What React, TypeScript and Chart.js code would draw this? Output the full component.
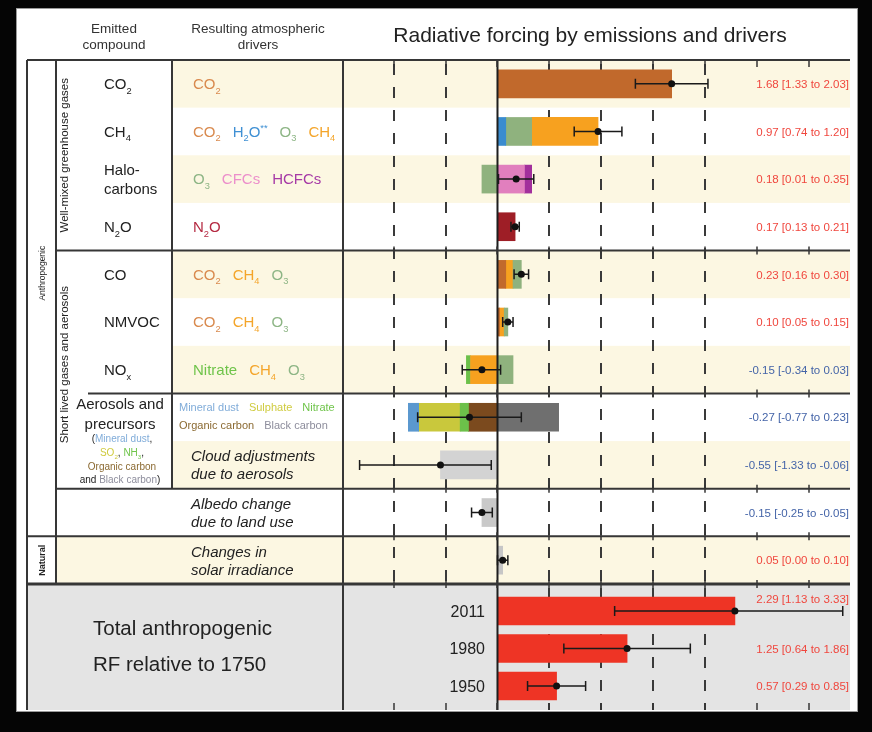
import React, { useEffect, useRef } from 'react';
import { Chart, registerables } from 'chart.js';

Chart.register(...registerables);

const FONT = '"Liberation Sans", Arial, Helvetica, sans-serif';
const W = 872;
const H = 732;

// ---------------- data ----------------
const rowNames = [
  'CO2', 'CH4', 'Halocarbons', 'N2O', 'CO', 'NMVOC', 'NOx',
  'Aerosols and precursors', 'Cloud adjustments due to aerosols',
  'Albedo change due to land use', 'Changes in solar irradiance',
];

// contribution of each atmospheric driver, per emitted compound (W m-2)
const co2Values = [1.68, null, null, null, 0.08, 0.02, null, null, null, null, null];
const h2oValues = [null, 0.08, null, null, null, null, null, null, null, null, null];
const o3Values = [null, 0.25, -0.15, null, 0.08, 0.035, 0.15, null, null, null, null];
const ch4Values = [null, 0.64, null, null, 0.07, 0.045, -0.26, null, null, null, null];
const cfcValues = [null, null, 0.26, null, null, null, null, null, null, null, null];
const hcfcValues = [null, null, 0.07, null, null, null, null, null, null, null, null];
const n2oValues = [null, null, null, 0.17, null, null, null, null, null, null, null];
const nitrateValues = [null, null, null, null, null, null, -0.04, -0.08, null, null, null];
const dustValues = [null, null, null, null, null, null, null, -0.10, null, null, null];
const sulphateValues = [null, null, null, null, null, null, null, -0.40, null, null, null];
const organicCarbonValues = [null, null, null, null, null, null, null, -0.28, null, null, null];
const blackCarbonValues = [null, null, null, null, null, null, null, 0.59, null, null, null];
const cloudValues = [null, null, null, null, null, null, null, null, -0.55, null, null];
const albedoValues = [null, null, null, null, null, null, null, null, null, -0.15, null];
const solarValues = [null, null, null, null, null, null, null, null, null, null, 0.05];

// drivers listed for each row (left-to-right order of the bar segments)
const rowDrivers = [
  ['CO2'], ['CO2', 'H2O', 'O3', 'CH4'], ['O3', 'CFCs', 'HCFCs'], ['N2O'],
  ['CO2', 'CH4', 'O3'], ['CO2', 'CH4', 'O3'], ['Nitrate', 'CH4', 'O3'],
  ['Dust', 'Sulphate', 'Nitrate', 'OC', 'BC'], ['Cloud'], ['Albedo'], ['Solar'],
];

const bestEstimates = [1.68, 0.97, 0.18, 0.17, 0.23, 0.10, -0.15, -0.27, -0.55, -0.15, 0.05];
const lowEstimates = [1.33, 0.74, 0.01, 0.13, 0.16, 0.05, -0.34, -0.77, -1.33, -0.25, 0.00];
const highEstimates = [2.03, 1.20, 0.35, 0.21, 0.30, 0.15, 0.03, 0.23, -0.06, -0.05, 0.10];

const totalYears = ['2011', '1980', '1950'];
const totalBest = [2.29, 1.25, 0.57];
const totalLow = [1.13, 0.64, 0.29];
const totalHigh = [3.33, 1.86, 0.85];

const xTickValues = [-1, -0.5, 0, 0.5, 1, 1.5, 2, 2.5, 3];
const dashedValues = [-1, -0.5, 0.5, 1, 1.5, 2];

// ---------------- styles ----------------
const DARK = '#222222';
const LINE = '#363636';
const CREAM = '#fcf7e2';
const GREY_BG = '#e4e4e4';
const POS_TXT = '#f0473e';
const NEG_TXT = '#4464a8';

type Driver = { label: string; values: (number | null)[]; bar: string; text: string };
const DRIVERS: Record<string, Driver> = {
  CO2: { label: 'CO_2', values: co2Values, bar: '#c1692c', text: '#d98a4e' },
  H2O: { label: 'H_2O^**', values: h2oValues, bar: '#3a8ccf', text: '#3f90d4' },
  O3: { label: 'O_3', values: o3Values, bar: '#8fb27e', text: '#8db585' },
  CH4: { label: 'CH_4', values: ch4Values, bar: '#f7a11f', text: '#f4a52a' },
  CFCs: { label: 'CFCs', values: cfcValues, bar: '#e17fbe', text: '#ec8fcb' },
  HCFCs: { label: 'HCFCs', values: hcfcValues, bar: '#a2309c', text: '#a63aa6' },
  N2O: { label: 'N_2O', values: n2oValues, bar: '#9e1e26', text: '#b52a42' },
  Nitrate: { label: 'Nitrate', values: nitrateValues, bar: '#6cc04a', text: '#6fc44a' },
  Dust: { label: 'Mineral dust', values: dustValues, bar: '#5b98cf', text: '#80acd9' },
  Sulphate: { label: 'Sulphate', values: sulphateValues, bar: '#c9c83c', text: '#cfcb3e' },
  OC: { label: 'Organic carbon', values: organicCarbonValues, bar: '#7b4a1e', text: '#8b6a32' },
  BC: { label: 'Black carbon', values: blackCarbonValues, bar: '#6f6f6f', text: '#8d8d9c' },
  Cloud: { label: 'Cloud adjustments', values: cloudValues, bar: '#d3d3d3', text: DARK },
  Albedo: { label: 'Albedo change', values: albedoValues, bar: '#c9c9c9', text: DARK },
  Solar: { label: 'Solar irradiance', values: solarValues, bar: '#c6c6c6', text: DARK },
};

const compoundLines: string[][] = [['CO_2'], ['CH_4'], ['Halo-', 'carbons'], ['N_2O'], ['CO'], ['NMVOC'], ['NO_x']];
const descriptionLines: Record<number, string[]> = {
  8: ['Cloud adjustments', 'due to aerosols'],
  9: ['Albedo change', 'due to land use'],
  10: ['Changes in', 'solar irradiance'],
};

// ---------------- helpers ----------------
type Piece = { t: string; mode: 'n' | 'sub' | 'sup' };
function parseMarkup(s: string): Piece[] {
  const out: Piece[] = [];
  let i = 0;
  while (i < s.length) {
    const ch = s[i];
    if (ch === '_' && i + 1 < s.length) {
      out.push({ t: s[i + 1], mode: 'sub' });
      i += 2;
    } else if (ch === '^') {
      let j = i + 1;
      let t = '';
      while (j < s.length && s[j] !== ' ') { t += s[j]; j++; }
      out.push({ t, mode: 'sup' });
      i = j;
    } else {
      let t = '';
      while (i < s.length && s[i] !== '_' && s[i] !== '^') { t += s[i]; i++; }
      out.push({ t, mode: 'n' });
    }
  }
  return out;
}

type Run = { t: string; c: string };
function drawRuns(ctx: CanvasRenderingContext2D, runs: Run[], x: number, y: number, size: number,
  style = '', align: 'left' | 'center' | 'right' = 'left'): number {
  const pieces: { t: string; mode: string; c: string; sz: number; w: number }[] = [];
  let total = 0;
  for (const r of runs) {
    for (const p of parseMarkup(r.t)) {
      const sz = p.mode === 'n' ? size : size * 0.62;
      ctx.font = `${style} ${sz}px ${FONT}`;
      const w = ctx.measureText(p.t).width;
      pieces.push({ t: p.t, mode: p.mode, c: r.c, sz, w });
      total += w;
    }
  }
  let cx = align === 'left' ? x : align === 'center' ? x - total / 2 : x - total;
  ctx.textAlign = 'left';
  ctx.textBaseline = 'alphabetic';
  const base = y + size * 0.36;
  for (const p of pieces) {
    ctx.font = `${style} ${p.sz}px ${FONT}`;
    ctx.fillStyle = p.c;
    const dy = p.mode === 'sub' ? size * 0.3 : p.mode === 'sup' ? -size * 0.4 : 0;
    ctx.fillText(p.t, cx, base + dy);
    cx += p.w;
  }
  return total;
}

function drawVertical(ctx: CanvasRenderingContext2D, text: string, cx: number, cy: number, size: number, style = '') {
  ctx.save();
  ctx.translate(cx, cy);
  ctx.rotate(-Math.PI / 2);
  drawRuns(ctx, [{ t: text, c: DARK }], 0, 0, size, style, 'center');
  ctx.restore();
}

function floatingSegments(): Record<string, ([number, number] | null)[]> {
  const out: Record<string, ([number, number] | null)[]> = {};
  Object.keys(DRIVERS).forEach((k) => { out[k] = rowNames.map(() => null); });
  rowNames.forEach((_, r) => {
    const order = rowDrivers[r];
    let neg = 0;
    order.forEach((k) => { const v = DRIVERS[k].values[r]; if (v != null && v < 0) neg += v; });
    let left = neg;
    let right = 0;
    order.forEach((k) => {
      const v = DRIVERS[k].values[r];
      if (v == null) return;
      if (v < 0) { out[k][r] = [left, left - v]; left -= v; } else { out[k][r] = [right, right + v]; right += v; }
    });
  });
  return out;
}

const fmt = (v: number) => v.toFixed(2);

function errorBar(ctx: CanvasRenderingContext2D, xl: number, xb: number, xh: number, yc: number) {
  ctx.strokeStyle = '#1a1a1a';
  ctx.lineWidth = 1.5;
  ctx.setLineDash([]);
  ctx.beginPath();
  ctx.moveTo(xl, yc); ctx.lineTo(xh, yc);
  ctx.moveTo(xl, yc - 5); ctx.lineTo(xl, yc + 5);
  ctx.moveTo(xh, yc - 5); ctx.lineTo(xh, yc + 5);
  ctx.stroke();
  ctx.fillStyle = '#111';
  ctx.beginPath();
  ctx.arc(xb, yc, 3.5, 0, Math.PI * 2);
  ctx.fill();
}

// column boundaries of the table (layout)
const X_OUTER = 27;
const X_GROUP = 56;
const X_SHORT = 88;
const X_DRIVER = 172;

const tablePlugin = {
  id: 'rfTable',
  beforeDraw(chart: any) {
    const ctx: CanvasRenderingContext2D = chart.ctx;
    const { top, right } = chart.chartArea;
    const xs = chart.scales.x;
    const ys = chart.scales.y;
    const y2 = chart.scales.y2;
    const band = (ys.bottom - ys.top) / rowNames.length;
    const rt = (r: number) => ys.getPixelForValue(r) - band / 2;
    ctx.save();
    ctx.fillStyle = '#050505';
    ctx.fillRect(0, 0, W, H);
    ctx.fillStyle = '#ffffff';
    ctx.fillRect(16, 8, 842, 704);
    ctx.strokeStyle = '#9a9a9a';
    ctx.lineWidth = 1;
    ctx.strokeRect(16.5, 8.5, 841, 703);
    // cream rows
    ctx.fillStyle = CREAM;
    rowNames.forEach((_, r) => {
      if (r % 2 === 0) {
        const from = r === rowNames.length - 1 ? X_GROUP : X_DRIVER;
        ctx.fillRect(from, rt(r), right - from, band);
      }
    });
    // grey total panel
    ctx.fillStyle = GREY_BG;
    ctx.fillRect(X_OUTER, y2.top, right - X_OUTER, y2.bottom - y2.top);
    // dashed grid
    ctx.strokeStyle = '#3a3a3a';
    ctx.lineWidth = 2;
    ctx.setLineDash([11, 12]);
    dashedValues.forEach((v) => {
      const px = Math.round(xs.getPixelForValue(v));
      ctx.beginPath();
      ctx.moveTo(px, top + 4);
      ctx.lineTo(px, y2.top);
      ctx.stroke();
      if (v > 0) {
        ctx.beginPath();
        ctx.moveTo(px, y2.top + 4);
        ctx.lineTo(px, y2.bottom);
        ctx.stroke();
      }
    });
    ctx.setLineDash([]);
    ctx.restore();
  },
  afterDatasetsDraw(chart: any) {
    const ctx: CanvasRenderingContext2D = chart.ctx;
    const { left, right, top } = chart.chartArea;
    const xs = chart.scales.x;
    const ys = chart.scales.y;
    const y2 = chart.scales.y2;
    const band = (ys.bottom - ys.top) / rowNames.length;
    const rc = (r: number) => ys.getPixelForValue(r);
    const rb = (r: number) => ys.getPixelForValue(r) + band / 2;
    const rt = (r: number) => ys.getPixelForValue(r) - band / 2;
    ctx.save();

    // zero line
    const x0 = xs.getPixelForValue(0);
    ctx.strokeStyle = '#1e1e1e';
    ctx.lineWidth = 2;
    ctx.beginPath();
    ctx.moveTo(x0, top);
    ctx.lineTo(x0, y2.bottom);
    ctx.stroke();

    // table lines
    ctx.strokeStyle = LINE;
    ctx.lineWidth = 2;
    const hLines: [number, number][] = [
      [top, X_OUTER], [rb(3), X_GROUP], [rb(6), X_SHORT], [rb(8), X_GROUP], [rb(9), X_OUTER],
    ];
    hLines.forEach(([yy, from]) => {
      ctx.beginPath(); ctx.moveTo(from, yy); ctx.lineTo(right, yy); ctx.stroke();
    });
    ctx.lineWidth = 3;
    ctx.beginPath(); ctx.moveTo(X_OUTER, y2.top); ctx.lineTo(right, y2.top); ctx.stroke();
    ctx.lineWidth = 2;
    const vLines: [number, number, number][] = [
      [X_OUTER, top, y2.bottom], [X_GROUP, top, y2.top], [X_DRIVER, top, rb(8)], [left, top, y2.bottom],
    ];
    vLines.forEach(([xx, a, b]) => {
      ctx.beginPath(); ctx.moveTo(xx, a); ctx.lineTo(xx, b); ctx.stroke();
    });
    // tick marks
    ctx.lineWidth = 1.5;
    xTickValues.forEach((v) => {
      const px = Math.round(xs.getPixelForValue(v));
      ctx.beginPath();
      ctx.moveTo(px, top); ctx.lineTo(px, top + 7);
      [rb(3), rb(6), rb(8), rb(9), y2.top].forEach((yy) => { ctx.moveTo(px, yy - 4); ctx.lineTo(px, yy + 4); });
      ctx.moveTo(px, y2.bottom); ctx.lineTo(px, y2.bottom - 7);
      ctx.stroke();
    });

    // error bars
    rowNames.forEach((_, r) => {
      errorBar(ctx, xs.getPixelForValue(lowEstimates[r]), xs.getPixelForValue(bestEstimates[r]),
        xs.getPixelForValue(highEstimates[r]), rc(r));
    });
    totalYears.forEach((_, i) => {
      errorBar(ctx, xs.getPixelForValue(totalLow[i]), xs.getPixelForValue(totalBest[i]),
        xs.getPixelForValue(totalHigh[i]), y2.getPixelForValue(i));
    });

    // value labels
    const valueRun = (b: number, l: number, h: number) => `${fmt(b)} [${fmt(l)} to ${fmt(h)}]`;
    rowNames.forEach((_, r) => {
      drawRuns(ctx, [{ t: valueRun(bestEstimates[r], lowEstimates[r], highEstimates[r]), c: bestEstimates[r] >= 0 ? POS_TXT : NEG_TXT }],
        right - 1, rc(r), 11.5, '', 'right');
    });
    totalYears.forEach((yr, i) => {
      const txt = valueRun(totalBest[i], totalLow[i], totalHigh[i]);
      ctx.font = `11.5px ${FONT}`;
      const w = ctx.measureText(txt).width;
      const yc = y2.getPixelForValue(i);
      const overlap = xs.getPixelForValue(totalHigh[i]) > right - w - 6;
      drawRuns(ctx, [{ t: txt, c: POS_TXT }], right - 1, overlap ? yc - 12 : yc, 11.5, '', 'right');
      drawRuns(ctx, [{ t: yr, c: DARK }], 485, yc, 16, '', 'right');
    });

    // headers
    drawRuns(ctx, [{ t: 'Emitted', c: '#333' }], 114, 28, 13.5, '', 'center');
    drawRuns(ctx, [{ t: 'compound', c: '#333' }], 114, 44, 13.5, '', 'center');
    drawRuns(ctx, [{ t: 'Resulting atmospheric', c: '#333' }], 258, 28, 13.5, '', 'center');
    drawRuns(ctx, [{ t: 'drivers', c: '#333' }], 258, 44, 13.5, '', 'center');
    drawRuns(ctx, [{ t: 'Radiative forcing by emissions and drivers', c: DARK }], 590, 34, 21, '', 'center');

    // emitted compounds
    compoundLines.forEach((lines, r) => {
      const n = lines.length;
      lines.forEach((ln, k) => {
        drawRuns(ctx, [{ t: ln, c: DARK }], 104, rc(r) + (k - (n - 1) / 2) * 19, 15);
      });
    });
    const aeroC = (rt(7) + rb(8)) / 2;
    drawRuns(ctx, [{ t: 'Aerosols and', c: DARK }], 120, aeroC - 37, 15, '', 'center');
    drawRuns(ctx, [{ t: 'precursors', c: DARK }], 120, aeroC - 17, 15, '', 'center');
    const s = 10;
    drawRuns(ctx, [{ t: '(', c: DARK }, { t: 'Mineral dust', c: DRIVERS.Dust.text }, { t: ',', c: DARK }], 122, aeroC - 3, s, '', 'center');
    drawRuns(ctx, [{ t: 'SO_2', c: DRIVERS.Sulphate.text }, { t: ', ', c: DARK }, { t: 'NH_3', c: DRIVERS.Nitrate.text }, { t: ',', c: DARK }], 122, aeroC + 11, s, '', 'center');
    drawRuns(ctx, [{ t: 'Organic carbon', c: DRIVERS.OC.text }], 122, aeroC + 25, s, '', 'center');
    drawRuns(ctx, [{ t: 'and ', c: DARK }, { t: 'Black carbon', c: DRIVERS.BC.text }, { t: ')', c: DARK }], 120, aeroC + 38, s, '', 'center');

    // atmospheric drivers
    rowNames.forEach((_, r) => {
      if (r <= 6) {
        let cx = 193;
        rowDrivers[r].forEach((k) => {
          const w = drawRuns(ctx, [{ t: DRIVERS[k].label, c: DRIVERS[k].text }], cx, rc(r), 15);
          cx += w + 12;
        });
      } else if (r === 7) {
        const lines = [rowDrivers[r].slice(0, 3), rowDrivers[r].slice(3)];
        lines.forEach((ln, k) => {
          let cx = 179;
          ln.forEach((key) => {
            const w = drawRuns(ctx, [{ t: DRIVERS[key].label, c: DRIVERS[key].text }], cx, rc(r) - 10 + k * 18, 11);
            cx += w + 10;
          });
        });
      } else {
        descriptionLines[r].forEach((ln, k) => {
          drawRuns(ctx, [{ t: ln, c: DARK }], 191, rc(r) - 9 + k * 18, 15, 'italic');
        });
      }
    });

    // vertical group labels
    drawVertical(ctx, 'Well-mixed greenhouse gases', 64, (rt(0) + rb(3)) / 2, 11.5);
    drawVertical(ctx, 'Short lived gases and aerosols', 64, (rt(4) + rb(8)) / 2 - 5, 11.5);
    drawVertical(ctx, 'Anthropogenic', 42, (rt(0) + rb(9)) / 2 - 25, 8.5);
    drawVertical(ctx, 'Natural', 42, rc(10), 9, 'bold');

    // total panel text
    const tc = (y2.top + y2.bottom) / 2;
    drawRuns(ctx, [{ t: 'Total anthropogenic', c: DARK }], 93, tc - 19, 20.5);
    drawRuns(ctx, [{ t: 'RF relative to 1750', c: DARK }], 93, tc + 17, 20.5);

    ctx.restore();
  },
};

export default function App() {
  const ref = useRef<HTMLCanvasElement>(null);
  useEffect(() => {
    const segs = floatingSegments();
    const barStyle = { borderWidth: 0, barThickness: 28, maxBarThickness: 28, grouped: false, xAxisID: 'x' };
    const datasets: any[] = Object.keys(DRIVERS).map((k) => ({
      label: k,
      data: segs[k],
      backgroundColor: DRIVERS[k].bar,
      yAxisID: 'y',
      ...barStyle,
    }));
    datasets.push({
      label: 'Total anthropogenic RF',
      data: totalBest.map((v, i) => ({ x: v, y: i })),
      backgroundColor: '#ee3425',
      yAxisID: 'y2',
      ...barStyle,
    });
    const chart = new Chart(ref.current as HTMLCanvasElement, {
      type: 'bar',
      data: { labels: rowNames, datasets },
      options: {
        indexAxis: 'y',
        animation: false,
        responsive: false,
        devicePixelRatio: 1,
        events: [],
        layout: { padding: { left: 343, right: 22, top: 60, bottom: 22 } },
        plugins: { legend: { display: false }, tooltip: { enabled: false }, title: { display: false } },
        scales: {
          x: { type: 'linear', min: -1.49, max: 3.4, display: false, stacked: false },
          y: {
            type: 'category', labels: rowNames, display: false, stacked: true, offset: true,
            position: 'left', stack: 'rows', stackWeight: 524, weight: 1,
          },
          y2: {
            type: 'linear', min: -0.72, max: 2.64, reverse: true, display: false, stacked: true,
            offset: false, grid: { offset: false },
            position: 'left', stack: 'rows', stackWeight: 126, weight: 0,
          },
        },
      } as any,
      plugins: [tablePlugin],
    });
    return () => chart.destroy();
  }, []);
  return (
    <div style={{ position: 'fixed', left: 0, top: 0, width: W, height: H, background: '#000' }}>
      <canvas ref={ref} width={W} height={H} style={{ display: 'block', width: W, height: H }} />
    </div>
  );
}
